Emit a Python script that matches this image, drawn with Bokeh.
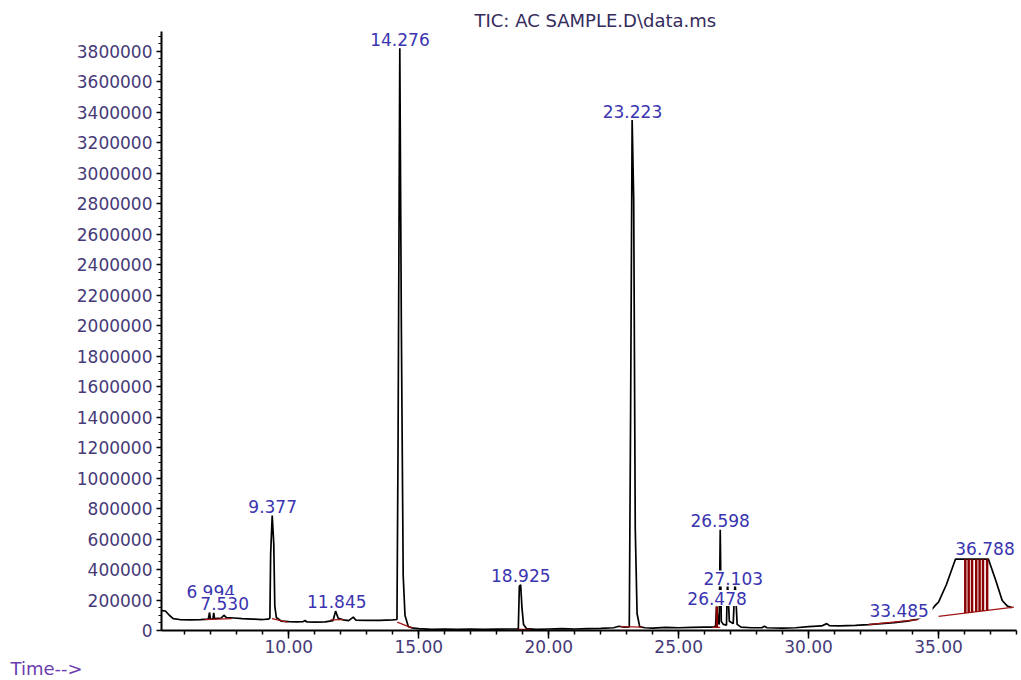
from bokeh.plotting import figure
from bokeh.models import (ColumnDataSource, Range1d,
                          SingleIntervalTicker, NumeralTickFormatter, Title)
from bokeh.core.properties import value
from bokeh.embed import file_html
from bokeh.resources import INLINE

# ---------------- data ----------------
time_min = [
    5.10, 5.25, 5.40, 5.55, 5.80, 6.20, 6.60, 6.90, 6.95, 6.98,
    7.08, 7.11, 7.14, 7.40, 7.50, 7.60, 7.90, 8.20, 8.60, 9.00,
    9.20, 9.27, 9.30, 9.36, 9.42, 9.46, 9.52, 9.70, 10.00, 10.30,
    10.55, 10.62, 10.70, 11.00, 11.40, 11.70, 11.80, 11.90, 12.10, 12.30,
    12.48, 12.58, 13.00, 13.50, 14.00, 14.16, 14.20, 14.27, 14.33, 14.40,
    14.47, 14.60, 14.80, 15.00, 15.50, 16.00, 16.50, 17.00, 17.50, 18.00,
    18.50, 18.83, 18.87, 18.92, 18.97, 19.03, 19.15, 19.50, 20.00, 20.50,
    21.00, 21.50, 22.00, 22.50, 22.70, 22.90, 23.10, 23.15, 23.21, 23.27,
    23.33, 23.40, 23.50, 23.70, 24.00, 24.50, 25.00, 25.50, 26.00, 26.35,
    26.42, 26.46, 26.52, 26.56, 26.60, 26.64, 26.72, 26.84, 26.88, 26.95,
    27.10, 27.17, 27.25, 27.40, 27.80, 28.20, 28.30, 28.40, 29.00, 29.50,
    30.00, 30.50, 30.70, 30.80, 31.20, 31.80, 32.30, 32.80, 33.30, 33.80,
    34.20, 34.60, 34.90, 35.00, 35.30, 35.65, 35.95, 36.92, 37.20, 37.45,
    37.65, 37.82,
]
abundance = [
    131000, 128000, 100000, 78000, 72000, 70000, 72000, 74000, 118000, 75000,
    76000, 115000, 78000, 82000, 100000, 85000, 82000, 78000, 75000, 72000,
    74000, 80000, 500000, 755000, 570000, 160000, 85000, 62000, 58000, 56000,
    58000, 66000, 56000, 55000, 57000, 65000, 127000, 80000, 70000, 65000,
    88000, 68000, 66000, 67000, 70000, 72000, 1135000, 3820000, 1980000, 360000,
    98000, 25000, 15000, 12000, 8000, 10000, 8000, 10000, 8000, 9000,
    10000, 10000, 290000, 300000, 150000, 40000, 12000, 8000, 10000, 12000,
    10000, 12000, 14000, 18000, 28000, 22000, 24000, 1400000, 3350000, 2830000,
    670000, 110000, 25000, 18000, 16000, 20000, 18000, 20000, 22000, 22000,
    30000, 157000, 60000, 40000, 661000, 60000, 40000, 35000, 330000, 60000,
    45000, 330000, 40000, 22000, 18000, 18000, 28000, 18000, 15000, 18000,
    25000, 30000, 45000, 32000, 30000, 33000, 38000, 45000, 52000, 62000,
    75000, 110000, 170000, 186000, 300000, 468000, 468000, 468000, 330000, 197000,
    160000, 150000,
]

# peak annotations (drawn in this order)
peak_rt = [6.994, 7.530, 9.377, 11.845, 14.276, 18.925, 23.223, 26.598,
           27.103, 26.478, 33.485, 36.788]
peak_text = ["6.994", "7.530", "9.377", "11.845", "14.276", "18.925",
             "23.223", "26.598", "27.103", "26.478", "33.485", "36.788"]
label_y = [256000, 180000, 814000, 190000, 3879000, 361000, 3407000,
           722000, 341000, 213000, 131000, 535000]

# integration baselines
base_t0 = [6.75, 9.35, 11.60, 14.17, 18.80, 22.76, 26.30, 32.30, 35.00]
base_y0 = [72000, 78000, 70000, 55000, 8000, 26000, 20000, 39000, 92000]
base_t1 = [7.80, 9.95, 12.10, 14.75, 19.30, 23.60, 26.60, 34.20, 37.90]
base_y1 = [78000, 55000, 72000, 15000, 8000, 22000, 20000, 72000, 153000]

# red drop lines (area slices)
drop_t = [26.47, 36.03, 36.16, 36.29, 36.45, 36.58, 36.71, 36.87]
drop_y0 = [20000, 114000, 117000, 119000, 123000, 126000, 128000, 131000]
drop_y1 = [157000, 468000, 468000, 468000, 468000, 468000, 468000, 468000]

x_start, x_end = 5.1, 38.0
y_start, y_end = 0, 3930000

# ---------------- figure ----------------
FONT = "DejaVu Sans"
W, H = 1018, 680

p = figure(width=W, height=H, output_backend="svg", toolbar_location=None,
           x_range=Range1d(x_start, x_end), y_range=Range1d(y_start, y_end),
           min_border_left=161, min_border_right=W - 1016, min_border_top=31,
           min_border_bottom=H - 630)
p.outline_line_color = None
p.xgrid.visible = False
p.ygrid.visible = False
p.background_fill_color = "white"
p.border_fill_color = "white"

title = Title(text="TIC: AC SAMPLE.D\\data.ms", align="left", offset=313,
              text_font=FONT, text_font_size="18px", text_font_style="normal",
              text_color="#342c5c", standoff=1)
p.add_layout(title, "above")

tick_color = "#463a78"

xa = p.xaxis[0]
xa.ticker = SingleIntervalTicker(interval=5, num_minor_ticks=5)
xa.formatter = NumeralTickFormatter(format="0.00")
xa.axis_line_width = 2
xa.axis_line_color = "black"
xa.major_tick_in = 0
xa.major_tick_out = 8
xa.minor_tick_in = 0
xa.minor_tick_out = 4
xa.major_tick_line_width = 1.5
xa.minor_tick_line_width = 1.5
xa.major_label_standoff = 1
xa.major_label_text_font = FONT
xa.major_label_text_font_size = "17px"
xa.major_label_text_color = tick_color

ya = p.yaxis[0]
ya.ticker = SingleIntervalTicker(interval=200000, num_minor_ticks=4)
ya.formatter = NumeralTickFormatter(format="0")
ya.axis_line_width = 2
ya.axis_line_color = "black"
ya.major_tick_in = 0
ya.major_tick_out = 5
ya.minor_tick_in = 0
ya.minor_tick_out = 3
ya.major_tick_line_width = 1.5
ya.minor_tick_line_width = 1
ya.major_label_standoff = 4
ya.major_label_text_font = FONT
ya.major_label_text_font_size = "17px"
ya.major_label_text_color = tick_color

# chromatogram
trace = ColumnDataSource(dict(t=time_min, a=abundance))
p.line("t", "a", source=trace, line_color="black", line_width=1.7)

# integration baselines and drop lines
bases = ColumnDataSource(dict(x0=base_t0, y0=base_y0, x1=base_t1, y1=base_y1))
p.segment("x0", "y0", "x1", "y1", source=bases, line_color="#a31515", line_width=1.3)
drops = ColumnDataSource(dict(x0=drop_t, y0=drop_y0, x1=drop_t, y1=drop_y1))
p.segment("x0", "y0", "x1", "y1", source=drops, line_color="#8b0000", line_width=2.5)

# peak labels: each on a white box that masks the trace beneath (as in the original);
# box and text drawn label by label so later labels cover earlier ones
for rt, txt, ly in zip(peak_rt, peak_text, label_y):
    src = ColumnDataSource(dict(x=[rt], y=[ly], text=[txt], w=[len(txt) * 10.8 + 2]))
    p.rect(x="x", y="y", width="w", height=16, width_units="screen",
           height_units="screen", source=src, fill_color="white",
           line_color=None)
    p.text(x="x", y="y", text="text", source=src, text_align="center",
           text_baseline="middle", text_font=value(FONT),
           text_font_size="17px", text_color="#3a34b0")

time_title = Title(text="Time-->", align="left", offset=-151,
                   text_font=FONT, text_font_size="18px", text_font_style="normal",
                   text_color="#6a3cb0", standoff=0)
p.add_layout(time_title, "below")

open("out.html", "w").write(file_html(p, INLINE))
